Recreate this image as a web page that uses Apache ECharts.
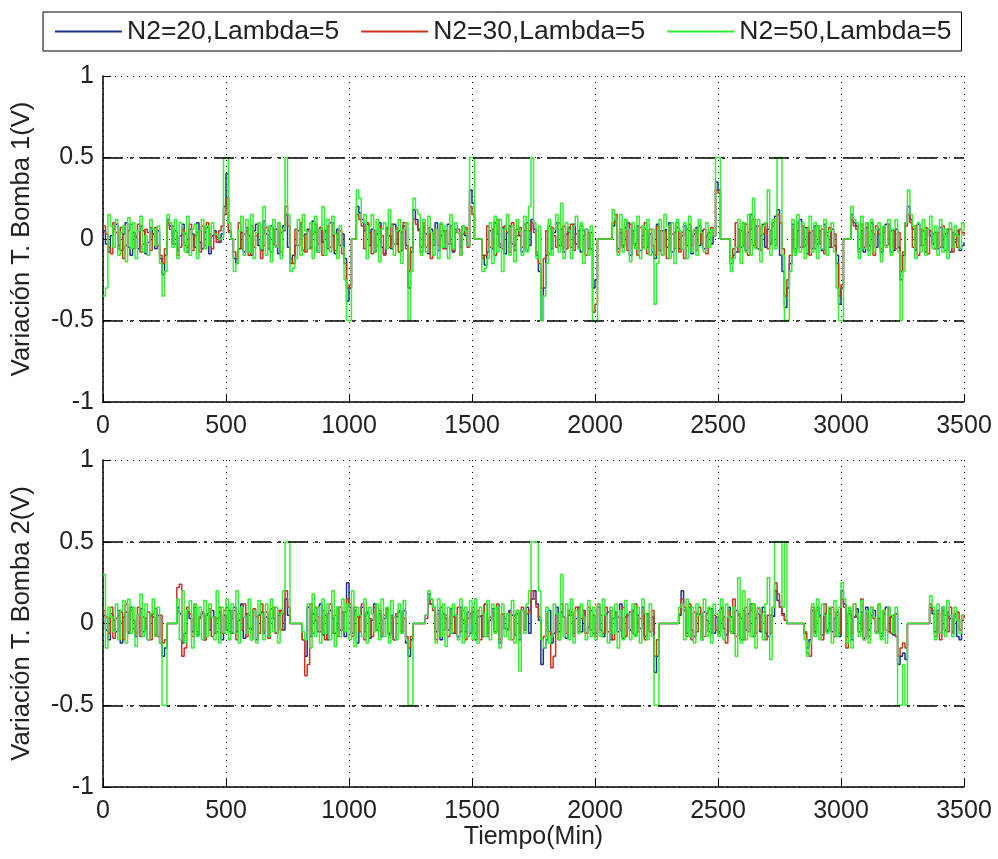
<!DOCTYPE html>
<html>
<head>
<meta charset="utf-8">
<script src="https://cdn.jsdelivr.net/npm/echarts@6/dist/echarts.min.js"></script>
<style>html,body{margin:0;padding:0;background:#fff;}#c{width:998px;height:859px;}</style>
</head>
<body>
<div id="c"></div>
<script>
// Sampling period of the simulation (minutes)
const SAMPLE_MIN = 10;
const seriesNames = ['N2=20,Lambda=5', 'N2=30,Lambda=5', 'N2=50,Lambda=5'];
const seriesColors = ['#1f2f8f', '#cc3322', '#33ee33'];
const xTicks = [0, 500, 1000, 1500, 2000, 2500, 3000, 3500];
const yTicks = [-1, -0.5, 0, 0.5, 1];
const limits = [0.5, -0.5];

// Bomba 1 (top panel)
const b1_n20 = [
 0.05,-0.03,-0.08,0.02,0.06,0.09,-0.04,-0.07,0.03,0.10, -0.05,-0.10,0.04,0.01,-0.06,0.08,0.05,-0.09,-0.02,0.07,
 0.03,-0.06,0.05,-0.12,-0.22,-0.10,0.12,0.08,-0.03,0.05, -0.07,0.02,0.09,-0.04,-0.08,0.06,0.03,-0.05,0.10,-0.02,
 -0.06,0.04,0.07,-0.09,0.02,0.05,0.01,-0.02,0.03,0.20,
 0.40,0.05,0.00,-0.12,-0.15,-0.06,0.04,-0.08,0.07,0.02, -0.10,0.05,0.09,-0.04,-0.07,0.11,0.03,-0.06,0.08,-0.03,
 0.06,-0.09,0.04,0.08,0.15,-0.05,-0.15,-0.10,-0.04,0.05, 0.09,-0.07,0.03,0.06,-0.05,0.11,0.04,-0.08,0.07,-0.02,
 0.05,-0.06,0.10,0.02,-0.09,0.06,-0.04,0.03,-0.12,-0.38,
 -0.30,0.00,0.00,0.20,0.16,0.12,0.05,0.09,-0.04,0.06, -0.08,0.03,0.10,-0.05,-0.09,0.07,0.02,-0.06,0.09,-0.03,
 0.05,-0.07,0.08,-0.04,-0.30,-0.08,0.18,0.12,0.06,-0.05, 0.08,0.03,-0.09,0.06,-0.04,0.10,-0.07,0.02,0.05,-0.06,
 0.09,-0.03,-0.08,0.06,0.04,-0.05,0.08,0.02,-0.04,0.30,
 0.22,0.00,0.00,0.00,-0.10,-0.16,-0.08,0.05,-0.06,0.10, 0.03,-0.05,0.07,-0.09,0.04,0.08,-0.03,-0.07,0.06,0.02,
 -0.08,0.05,0.10,-0.04,0.12,0.06,-0.10,-0.20,-0.50,-0.30, -0.10,0.08,-0.06,0.04,0.10,-0.04,0.06,-0.08,0.03,0.07,
 -0.05,0.09,-0.03,0.05,-0.08,0.02,0.06,-0.06,0.04,-0.30,
 -0.25,0.00,0.00,0.00,0.00,0.00,0.00,0.08,0.12,-0.06, 0.04,-0.04,0.07,0.10,-0.10,0.05,-0.03,0.08,-0.07,0.02,
 0.06,-0.05,0.03,-0.08,-0.12,0.09,-0.07,0.05,0.06,-0.05, 0.10,-0.08,0.04,0.07,-0.06,0.02,0.08,-0.04,0.05,-0.09,
 0.03,0.07,-0.04,0.05,-0.06,0.02,0.04,-0.03,0.02,0.35,
 0.30,0.00,0.00,0.00,0.00,-0.15,-0.10,-0.08,0.06,-0.05, 0.10,-0.07,0.04,0.15,-0.04,0.08,-0.06,0.02,0.09,-0.05,
 0.06,-0.03,0.10,0.14,0.18,-0.10,-0.20,-0.42,-0.30,-0.15, 0.09,-0.06,0.05,0.12,-0.05,0.07,-0.09,0.04,-0.06,0.08,
 -0.03,0.05,-0.07,0.09,0.02,-0.05,0.06,-0.04,-0.10,-0.40,
 -0.30,0.00,0.00,0.00,0.15,0.10,0.08,-0.06,0.05,-0.08, 0.07,-0.04,0.10,0.03,-0.05,0.06,-0.08,0.04,0.09,-0.03,
 0.05,-0.07,0.06,-0.05,-0.25,-0.10,0.10,0.20,0.12,0.06, -0.07,0.09,-0.04,0.05,-0.08,0.06,0.02,-0.03,0.04,-0.06,
 0.07,-0.05,0.03,0.06,-0.08,0.04,-0.02,0.05,-0.07,-0.04,
 -0.02];
const b1_n30 = [
 0.08,0.03,-0.05,-0.09,0.10,0.04,-0.06,0.07,-0.12,-0.04, 0.05,0.09,-0.06,0.02,0.09,-0.08,-0.03,0.06,0.04,-0.07,
 0.03,0.07,-0.04,-0.10,-0.15,-0.06,0.10,0.06,0.08,-0.03, -0.10,-0.05,0.06,0.03,-0.05,0.09,-0.07,0.02,0.04,-0.08,
 0.08,-0.04,0.10,0.03,-0.06,0.04,-0.02,0.05,0.08,0.15,
 0.25,0.04,0.00,-0.08,-0.12,0.10,-0.06,0.03,0.05,-0.10, 0.08,-0.05,0.02,0.10,-0.12,-0.04,0.07,0.05,-0.08,0.06,
 -0.04,0.10,-0.08,0.05,0.20,0.08,-0.12,-0.15,0.06,-0.04, 0.10,0.02,-0.08,0.05,-0.06,0.03,0.09,-0.03,0.07,-0.10,
 0.04,0.08,-0.05,0.10,-0.07,0.03,0.05,-0.09,-0.15,-0.30,
 -0.28,0.00,0.00,0.15,0.12,0.08,-0.06,0.10,0.04,-0.09, 0.05,-0.04,0.08,0.02,-0.10,0.06,-0.05,0.09,-0.03,0.07,
 -0.08,0.04,0.10,-0.06,-0.20,-0.05,0.12,0.09,0.05,-0.08, 0.10,-0.05,0.07,-0.12,0.03,0.06,-0.04,0.09,-0.06,0.05,
 -0.03,0.08,-0.07,0.04,0.06,-0.10,0.03,0.07,-0.05,0.20,
 0.15,0.00,0.00,0.00,-0.12,-0.10,0.08,-0.05,0.06,-0.10, 0.12,-0.03,-0.06,0.08,0.04,-0.08,0.10,-0.04,0.02,0.07,
 -0.05,0.09,-0.07,0.05,0.10,0.04,-0.08,-0.15,-0.30,-0.12, 0.05,-0.09,0.07,0.02,-0.05,0.10,-0.04,0.08,-0.06,0.04,
 0.09,-0.07,0.03,-0.05,0.08,0.05,-0.10,0.04,-0.06,-0.45,
 -0.40,0.00,0.00,0.00,0.00,0.00,0.00,0.10,0.15,-0.08, 0.06,-0.05,0.12,-0.07,0.09,0.03,-0.04,-0.10,0.07,-0.05,
 0.10,-0.09,0.06,-0.04,-0.10,0.08,0.05,-0.10,0.05,-0.12, 0.07,0.03,-0.06,0.10,-0.08,0.04,-0.12,0.06,0.09,-0.04,
 0.05,-0.07,0.08,-0.03,0.06,-0.09,0.04,0.07,0.02,0.30,
 0.28,0.00,0.00,0.00,0.00,-0.12,-0.06,0.10,-0.08,0.05, -0.04,0.09,-0.10,0.06,0.12,-0.05,0.08,-0.07,0.03,0.10,
 -0.06,0.05,0.08,-0.04,0.15,0.10,-0.06,-0.35,-0.25,-0.10, 0.06,-0.08,0.10,-0.05,0.08,-0.04,0.07,-0.10,0.05,-0.06,
 0.08,-0.03,0.06,-0.09,0.04,0.07,-0.05,0.03,-0.15,-0.35,
 -0.28,0.00,0.00,0.00,0.12,0.08,0.06,-0.08,0.09,-0.05, 0.10,-0.07,0.05,-0.10,0.08,0.03,-0.06,0.07,-0.04,0.09,
 -0.08,0.05,-0.06,0.04,-0.20,-0.08,0.08,0.15,0.10,-0.05, 0.08,-0.10,0.06,-0.04,0.07,-0.09,0.05,0.03,-0.06,0.04,
 -0.05,0.08,-0.07,0.04,0.06,-0.08,0.03,-0.05,0.06,0.04,
 0.02];
const b1_n50 = [
 -0.35,-0.30,0.15,0.08,-0.05,0.12,-0.10,0.04,0.08,-0.14, 0.13,-0.06,0.10,-0.12,0.05,0.14,-0.08,0.02,-0.10,0.12,
 0.06,-0.04,0.08,-0.15,-0.35,-0.20,0.15,0.10,-0.05,0.12, -0.12,0.10,0.04,-0.08,0.14,-0.10,0.06,0.09,-0.12,0.05,
 0.12,-0.06,0.08,-0.04,0.10,0.03,0.02,0.00,0.01,0.50,
 0.50,0.10,0.00,-0.20,-0.15,0.05,0.14,-0.10,0.12,-0.08, 0.15,-0.12,0.04,0.10,-0.06,0.20,-0.10,0.08,-0.14,0.12,
 -0.05,0.10,-0.12,0.06,0.50,0.15,-0.20,-0.18,-0.12,0.12, -0.10,0.15,0.05,-0.06,0.10,-0.12,0.14,-0.08,0.06,0.20,
 -0.10,0.12,-0.08,0.14,0.03,-0.12,0.08,-0.05,-0.25,-0.50,
 -0.50,0.00,0.00,0.30,0.25,0.10,0.15,-0.12,0.08,0.15, -0.08,0.12,-0.14,0.06,0.10,-0.06,0.18,0.08,-0.10,0.05,
 0.12,-0.15,0.06,0.10,-0.50,-0.20,0.25,0.18,0.15,-0.10, 0.12,-0.08,0.14,0.04,-0.10,0.06,-0.12,0.10,-0.05,0.08,
 -0.12,0.15,-0.06,0.10,0.04,-0.10,0.08,0.05,-0.04,0.50,
 0.50,0.00,0.00,0.00,-0.20,-0.18,-0.12,0.10,-0.15,0.14, -0.08,0.12,-0.20,0.06,0.15,-0.10,0.08,-0.14,0.12,0.05,
 -0.10,0.14,-0.08,0.20,0.50,0.10,-0.12,0.08,-0.50,-0.35, -0.15,0.12,-0.10,0.06,0.15,-0.08,0.22,-0.12,0.10,0.05,
 -0.12,0.08,0.14,-0.06,0.10,-0.15,0.06,-0.10,0.08,-0.50,
 -0.50,0.00,0.00,0.00,0.00,0.00,0.00,0.18,0.12,-0.10, 0.15,-0.08,0.12,0.06,-0.14,0.10,-0.06,0.14,-0.12,0.08,
 -0.06,0.12,-0.10,0.06,-0.40,-0.15,0.12,-0.10,0.15,0.08, -0.12,0.10,-0.15,0.12,0.05,-0.06,0.10,-0.12,0.14,-0.08,
 0.06,-0.10,0.12,0.04,-0.08,0.10,-0.05,0.06,0.02,0.50,
 0.50,0.00,0.00,0.00,0.00,-0.20,-0.12,-0.05,0.12,-0.15, 0.10,-0.08,0.15,-0.10,0.25,-0.06,0.12,-0.14,0.08,0.10,
 0.30,-0.10,0.12,-0.06,0.50,0.50,-0.10,-0.50,-0.50,-0.20, 0.12,-0.10,0.15,-0.08,0.10,-0.12,0.06,0.14,-0.08,0.10,
 -0.12,0.08,-0.06,0.12,-0.10,0.05,0.10,-0.08,-0.30,-0.50,
 -0.50,0.00,0.00,0.00,0.20,0.12,0.10,-0.12,0.14,-0.06, 0.10,-0.10,0.12,-0.08,0.06,0.10,-0.14,0.08,-0.05,0.12,
 -0.10,0.06,0.12,-0.08,-0.50,-0.20,0.10,0.30,0.15,0.08, -0.12,0.10,-0.08,0.12,-0.10,0.06,0.14,-0.06,0.08,-0.10,
 0.12,-0.08,0.06,-0.12,0.10,-0.05,0.08,0.02,-0.06,0.10,
 0.05];

// Bomba 2 (bottom panel)
const b2_n20 = [
 0.05,-0.04,-0.10,0.06,0.02,-0.05,0.08,-0.12,0.04,0.07, -0.06,0.10,-0.03,-0.08,0.05,0.09,-0.05,0.03,-0.10,0.06,
 0.04,-0.07,0.05,-0.12,-0.20,-0.15,0.00,0.00,0.00,0.00, 0.10,0.06,-0.12,-0.06,0.08,0.03,-0.05,0.10,-0.07,0.04,
 0.06,-0.10,0.05,-0.04,0.08,-0.06,0.03,0.07,-0.10,0.05,
 -0.04,0.08,-0.06,0.10,-0.05,0.02,0.12,-0.09,0.06,-0.03, -0.04,0.08,-0.10,0.05,0.07,-0.06,0.04,-0.08,0.09,0.03,
 -0.06,0.05,0.08,-0.04,0.15,0.05,0.00,0.00,0.00,0.00, 0.00,-0.10,-0.20,0.10,-0.08,0.06,0.02,-0.05,0.12,-0.07,
 0.05,-0.10,0.08,0.03,-0.06,0.10,-0.04,0.07,-0.08,0.25,
 0.10,-0.06,0.08,-0.12,0.04,0.10,-0.05,0.07,-0.09,0.02, 0.12,-0.04,0.06,-0.08,0.03,0.09,-0.06,0.05,-0.10,0.04,
 0.07,-0.05,0.08,-0.12,-0.20,-0.10,0.00,0.00,0.00,0.00, 0.00,0.05,0.18,0.12,0.10,-0.05,0.08,-0.10,0.06,0.03,
 -0.04,0.09,-0.06,0.05,-0.08,0.10,0.02,-0.05,0.07,-0.06,
 0.07,-0.10,0.04,0.05,-0.08,0.12,-0.06,0.02,0.09,-0.05, 0.10,-0.12,0.06,-0.03,-0.04,0.08,0.05,-0.07,0.06,-0.10,
 0.08,-0.04,0.10,-0.06,0.15,0.20,0.12,0.02,-0.25,-0.15, -0.10,0.08,-0.12,-0.06,0.10,-0.05,0.07,0.04,-0.09,0.05,
 0.07,-0.06,0.03,0.10,-0.05,0.08,-0.06,-0.02,0.08,-0.06,
 -0.06,0.10,-0.04,-0.08,0.05,0.07,-0.10,0.03,0.07,-0.05, 0.12,-0.09,0.04,0.06,-0.04,0.08,-0.07,0.05,-0.03,0.10,
 -0.08,0.06,-0.05,0.04,-0.30,-0.20,0.00,0.00,0.00,0.00, 0.00,0.00,0.00,0.00,0.05,0.20,0.08,-0.06,0.10,-0.04,
 -0.08,0.06,0.05,-0.10,0.07,0.02,-0.05,0.09,-0.06,0.04,
 -0.05,0.09,-0.03,-0.07,0.10,0.04,-0.06,0.08,0.05,-0.10, 0.08,-0.04,0.06,0.12,-0.08,0.03,0.06,-0.05,0.10,-0.06,
 -0.08,0.05,0.04,0.20,0.14,0.10,0.06,0.02,0.00,0.00, 0.00,0.00,0.00,0.00,0.00,-0.06,-0.15,-0.10,0.08,-0.05,
 0.10,0.05,-0.07,0.06,-0.04,0.09,-0.05,0.03,0.07,-0.08,
 0.20,0.12,-0.08,0.06,-0.10,0.04,0.09,-0.05,0.07,-0.09, 0.10,-0.04,0.05,0.08,-0.06,0.03,-0.08,0.06,0.10,-0.05,
 0.04,-0.07,0.06,-0.25,-0.20,-0.18,-0.22,0.00,0.00,0.00, 0.00,0.00,0.00,0.00,0.00,0.00,0.10,0.06,-0.05,0.08,
 -0.06,0.10,-0.04,0.07,0.03,-0.05,0.06,-0.08,-0.10,0.02,
 0.02];
const b2_n30 = [
 0.08,0.04,-0.06,0.10,-0.09,0.03,0.05,0.07,-0.10,0.12, -0.05,0.08,0.02,-0.06,0.10,-0.08,0.04,-0.03,0.07,-0.10,
 0.06,0.09,-0.08,0.05,-0.12,-0.10,0.00,0.00,0.00,0.00, 0.22,0.24,-0.20,-0.15,0.10,0.06,-0.08,0.12,-0.05,0.03,
 0.07,-0.10,0.06,0.09,-0.08,0.04,-0.05,0.10,-0.06,0.08,
 0.10,-0.05,0.03,0.08,-0.10,0.06,-0.04,0.12,-0.08,0.05, -0.10,0.09,0.04,-0.06,0.12,-0.05,0.07,-0.09,0.03,0.10,
 -0.06,0.08,-0.04,0.06,0.20,0.10,0.00,0.00,0.00,0.00, 0.00,-0.10,-0.32,-0.25,0.12,-0.06,0.10,0.04,-0.05,0.08,
 -0.10,0.06,0.12,-0.06,0.05,-0.08,0.10,-0.04,0.07,0.15,
 0.12,-0.08,0.10,0.04,-0.05,0.12,-0.10,0.06,0.03,-0.08, 0.10,-0.04,0.08,-0.06,0.05,0.09,-0.07,0.04,-0.10,0.06,
 0.08,-0.05,0.03,-0.08,-0.15,-0.08,0.00,0.00,0.00,0.00, 0.00,0.03,0.12,0.15,0.08,-0.10,0.06,0.10,-0.04,0.05,
 -0.08,0.07,0.04,-0.06,0.10,-0.05,0.08,-0.10,0.03,0.06,
 0.10,-0.06,0.08,-0.10,0.05,0.12,-0.08,0.04,0.07,-0.05, 0.12,-0.10,0.06,0.03,-0.04,0.07,-0.10,0.05,0.08,-0.06,
 0.10,-0.04,0.06,0.08,0.20,0.15,0.10,0.04,-0.10,-0.08, 0.06,-0.05,-0.27,-0.20,0.06,-0.10,0.12,0.04,-0.06,0.08,
 0.05,-0.08,0.10,-0.05,0.03,0.08,-0.06,0.10,-0.04,0.05,
 -0.08,0.12,0.05,-0.06,0.10,-0.05,0.08,-0.10,0.06,0.04, -0.04,0.10,-0.08,0.05,0.07,-0.06,0.12,-0.05,0.03,0.08,
 -0.10,0.06,-0.05,0.08,-0.20,-0.10,0.00,0.00,0.00,0.00, 0.00,0.00,0.00,0.00,0.06,0.15,0.10,-0.08,0.12,-0.10,
 0.07,-0.05,0.10,0.04,-0.08,0.06,0.09,-0.06,0.05,-0.04,
 -0.06,0.10,0.04,-0.12,0.08,-0.05,0.15,-0.08,0.06,0.03, -0.10,0.10,-0.05,0.08,0.12,-0.06,0.09,-0.04,0.07,-0.10,
 0.05,-0.06,0.10,0.25,0.18,0.10,0.05,0.02,0.00,0.00, 0.00,0.00,0.00,0.00,0.00,-0.05,-0.18,-0.20,0.10,-0.06,
 0.08,0.04,-0.10,0.12,-0.05,0.06,0.10,-0.08,0.05,-0.06,
 0.15,0.10,-0.15,0.08,-0.06,0.12,0.04,-0.05,0.15,-0.10, 0.06,-0.08,0.10,0.03,-0.05,0.12,-0.06,0.08,-0.04,0.10,
 -0.06,0.05,-0.08,-0.20,-0.15,-0.12,-0.15,0.00,0.00,0.00, 0.00,0.00,0.00,0.00,0.00,0.00,0.12,0.08,-0.08,0.06,
 -0.10,0.08,0.05,-0.05,0.10,-0.06,0.04,0.07,-0.04,0.05,
 0.03];
const b2_n50 = [
 0.30,-0.15,0.10,0.04,-0.05,0.12,-0.10,0.08,0.14,-0.12, 0.15,-0.06,0.10,-0.14,0.05,0.18,-0.08,0.12,-0.10,0.06,
 0.15,-0.08,0.10,-0.12,-0.50,-0.50,0.00,0.00,0.00,0.00, 0.15,-0.10,0.20,-0.12,0.08,0.14,-0.15,0.12,-0.08,0.10,
 -0.10,0.14,-0.08,0.12,0.04,-0.10,0.20,-0.12,0.10,-0.06,
 0.15,-0.10,0.12,-0.06,0.20,-0.12,0.10,0.04,-0.06,0.15, -0.10,0.08,-0.12,0.14,0.06,-0.10,0.12,-0.08,0.15,-0.05,
 0.10,-0.12,0.06,0.20,0.50,0.50,0.00,0.00,0.00,0.00, 0.00,-0.05,-0.10,0.12,-0.15,0.18,-0.08,0.10,-0.12,0.15,
 -0.06,0.12,-0.10,0.20,-0.14,0.10,-0.08,0.15,-0.05,0.12,
 -0.10,0.20,-0.14,0.10,0.05,-0.08,0.15,-0.12,0.10,0.06, -0.05,0.12,-0.10,0.15,-0.08,0.10,-0.12,0.14,0.04,-0.10,
 0.12,-0.06,0.14,-0.10,-0.50,-0.50,0.00,0.00,0.00,0.00, 0.00,0.05,0.20,0.15,0.10,-0.12,0.15,-0.08,0.12,-0.14,
 0.10,-0.06,0.12,0.05,-0.10,0.15,-0.12,0.10,-0.08,0.14,
 -0.10,0.15,-0.12,0.10,0.06,-0.08,0.14,-0.10,0.12,-0.06, 0.10,-0.15,0.12,-0.08,0.06,-0.10,0.14,-0.12,0.08,-0.29,
 0.08,-0.06,0.12,0.20,0.50,0.50,0.50,0.20,-0.10,-0.15, 0.10,-0.12,-0.08,0.12,0.06,-0.10,0.30,-0.08,0.12,-0.10,
 0.15,-0.12,0.08,-0.06,0.12,0.04,-0.10,0.14,-0.08,0.10,
 -0.10,0.12,-0.08,0.15,0.05,-0.12,0.10,-0.06,0.12,-0.15, 0.08,-0.10,0.14,0.06,-0.10,0.12,-0.08,0.10,-0.12,0.15,
 0.06,-0.10,0.12,-0.08,-0.50,-0.50,0.00,0.00,0.00,0.00, 0.00,0.00,0.00,0.00,0.10,0.12,-0.10,0.15,-0.08,0.10,
 -0.12,0.12,0.05,-0.10,0.15,-0.08,0.10,-0.12,0.12,0.06,
 -0.08,0.15,-0.10,0.12,0.04,-0.06,0.10,-0.20,0.28,-0.12, 0.20,-0.10,0.15,-0.08,0.12,-0.15,0.10,0.06,-0.10,0.12,
 0.28,-0.22,0.10,0.50,0.50,0.50,0.10,0.50,0.00,0.00, 0.00,0.00,0.00,0.00,0.00,-0.10,-0.20,-0.12,0.12,-0.08,
 0.15,-0.10,0.12,0.05,-0.06,0.10,-0.12,0.14,-0.08,0.10,
 0.25,0.15,-0.12,0.10,-0.15,0.12,0.06,-0.08,0.14,-0.10, 0.08,-0.12,0.10,0.04,-0.06,0.12,-0.10,0.08,-0.12,0.10,
 0.05,-0.06,0.10,-0.50,-0.50,-0.25,-0.50,0.00,0.00,0.00, 0.00,0.00,0.00,0.00,0.00,0.00,0.17,0.10,-0.10,0.12,
 -0.06,0.10,-0.08,0.14,0.05,-0.08,0.10,0.02,-0.06,0.05,
 0.05];

const panels = [
  { yName: 'Variación T. Bomba 1(V)', data: [b1_n20, b1_n30, b1_n50] },
  { yName: 'Variación T. Bomba 2(V)', data: [b2_n20, b2_n30, b2_n50] }
];

const FONT = 'Liberation Sans, Arial, sans-serif';
const TXT = '#222';
const chart = echarts.init(document.getElementById('c'), null, { renderer: 'canvas' });

const grids = [
  { left: 103, top: 76, width: 861, height: 326 },
  { left: 103, top: 460, width: 861, height: 327 }
];

const xAxes = panels.map((p, k) => ({
  type: 'value', gridIndex: k,
  min: xTicks[0], max: xTicks[xTicks.length - 1], interval: 500,
  name: k === 1 ? 'Tiempo(Min)' : '',
  nameLocation: 'middle', nameGap: 36,
  nameTextStyle: { fontSize: 25, color: TXT, fontFamily: FONT },
  axisLine: { show: true, onZero: false, lineStyle: { color: '#000', width: 1.5 } },
  axisTick: { show: true, inside: true, length: 8, lineStyle: { color: '#000', width: 1 } },
  axisLabel: { fontSize: 25, color: TXT, margin: 12, fontFamily: FONT, formatter: v => String(v) },
  splitLine: { show: true, lineStyle: { color: '#000', width: 1, type: [1, 5] } }
}));

const yAxes = panels.map((p, k) => ({
  type: 'value', gridIndex: k,
  min: yTicks[0], max: yTicks[yTicks.length - 1], interval: 0.5,
  name: p.yName, nameLocation: 'middle', nameGap: 68,
  nameTextStyle: { fontSize: 25.5, color: TXT, fontFamily: FONT },
  axisLine: { show: true, onZero: false, lineStyle: { color: '#000', width: 1.5 } },
  axisTick: { show: true, inside: true, length: 8, lineStyle: { color: '#000', width: 1 } },
  axisLabel: { fontSize: 25, color: TXT, margin: 9, fontFamily: FONT, formatter: v => String(v) },
  splitLine: { show: true, lineStyle: { color: '#000', width: 1, type: [1, 5] } }
}));

const series = [];
panels.forEach((p, k) => {
  p.data.forEach((vals, j) => {
    series.push({
      type: 'line', name: seriesNames[j], xAxisIndex: k, yAxisIndex: k,
      data: vals.map((v, i) => [i * SAMPLE_MIN, v]),
      step: 'end', symbol: 'none', showSymbol: false, silent: true,
      lineStyle: { color: seriesColors[j], width: 1.5 },
      itemStyle: { color: seriesColors[j] },
      z: 2 + j
    });
  });
  series.push({
    type: 'line', xAxisIndex: k, yAxisIndex: k, data: [], silent: true, z: 10,
    markLine: {
      symbol: 'none', silent: true, animation: false,
      label: { show: false },
      lineStyle: { color: '#000', width: 1.5, type: [20, 7, 3, 7] },
      data: limits.map(v => ({ yAxis: v }))
    }
  });
});

chart.setOption({
  animation: false,
  backgroundColor: '#fff',
  textStyle: { fontFamily: FONT },
  legend: {
    data: seriesNames, left: 43, top: 12,
    padding: [6, 10, 6, 12], itemGap: 22, itemWidth: 67, itemHeight: 2,
    icon: 'rect', borderColor: '#000', borderWidth: 1, backgroundColor: '#fff',
    textStyle: { fontSize: 26.5, color: TXT, fontFamily: FONT }
  },
  grid: grids,
  xAxis: xAxes,
  yAxis: yAxes,
  series: series
});
</script>
</body>
</html>
